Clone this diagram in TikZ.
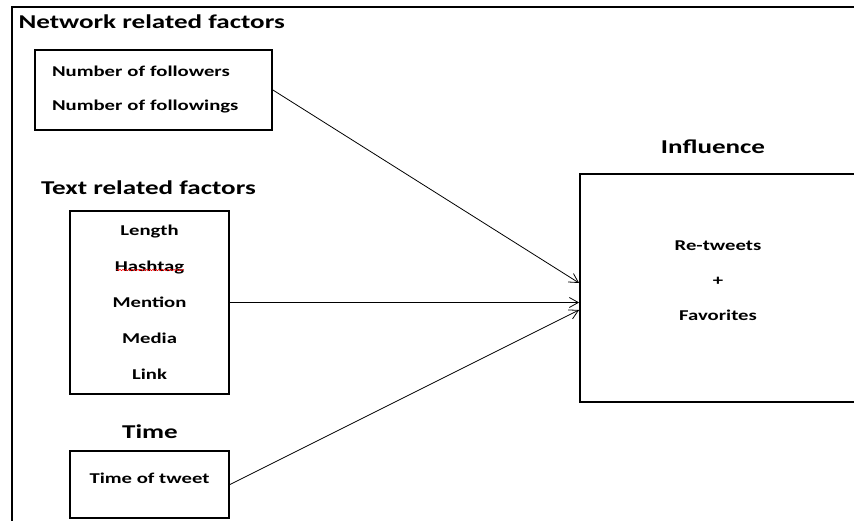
\documentclass[tikz,border=0pt]{standalone}
\usepackage{fontspec}
\setmainfont{Carlito}[FakeStretch=1.38]
\usetikzlibrary{arrows.meta,decorations.pathmorphing}
\tikzset{
  box/.style={draw,line width=1.8pt,inner sep=0pt},
  head/.style={font=\fontsize{19.6}{19.6}\selectfont\bfseries},
  item/.style={font=\fontsize{15}{36}\selectfont\bfseries,align=center},
  arr/.style={-{Straight Barb[length=9pt,width=10pt]},line width=0.8pt}
}
\begin{document}
\begin{tikzpicture}[x=1pt,y=-1pt]
\clip (0,0) rectangle (854,521);
\fill[white] (0,0) rectangle (854,521);
\draw[line width=2.5pt] (12,521) -- (12,7) -- (854,7);
\node[head,anchor=west] (nethead) at (15,22) {Network related factors};
\node[box,item,minimum width=237pt,minimum height=80pt,text width=203pt,align=left,inner xsep=17pt,font=\fontsize{15}{34}\selectfont\bfseries] (net) at (153.5,90) {Number of followers\\Number of followings};
\node[head] (txthead) at (148.5,188) {Text related factors};
\node[box,item,minimum width=159pt,minimum height=183pt] (txt) at (149.5,302.5) {Length\\Hashtag\\Mention\\Media\\Link};
\draw[red,line width=0.5pt,decorate,decoration={snake,amplitude=0.7pt,segment length=3pt}] (116,270) -- (184,270);
\node[head] (timhead) at (150,432) {Time};
\node[box,item,minimum width=159pt,minimum height=67pt,text depth=12pt] (tim) at (149.5,484.5) {Time of tweet};
\node[head] (infhead) at (713,147) {Influence};
\node[box,minimum width=276pt,minimum height=228pt] (infl) at (718,288) {};
\node[item,font=\fontsize{15}{35}\selectfont\bfseries] (res) at (718,281) {Re-tweets\\+\\Favorites};
\draw[arr] (net.east) -- ([yshift=5pt]infl.west);
\draw[arr] (txt.east) -- (txt.east -| infl.west);
\draw[arr] (tim.east) -- ([yshift=-22pt]infl.west);
\end{tikzpicture}
\end{document}
